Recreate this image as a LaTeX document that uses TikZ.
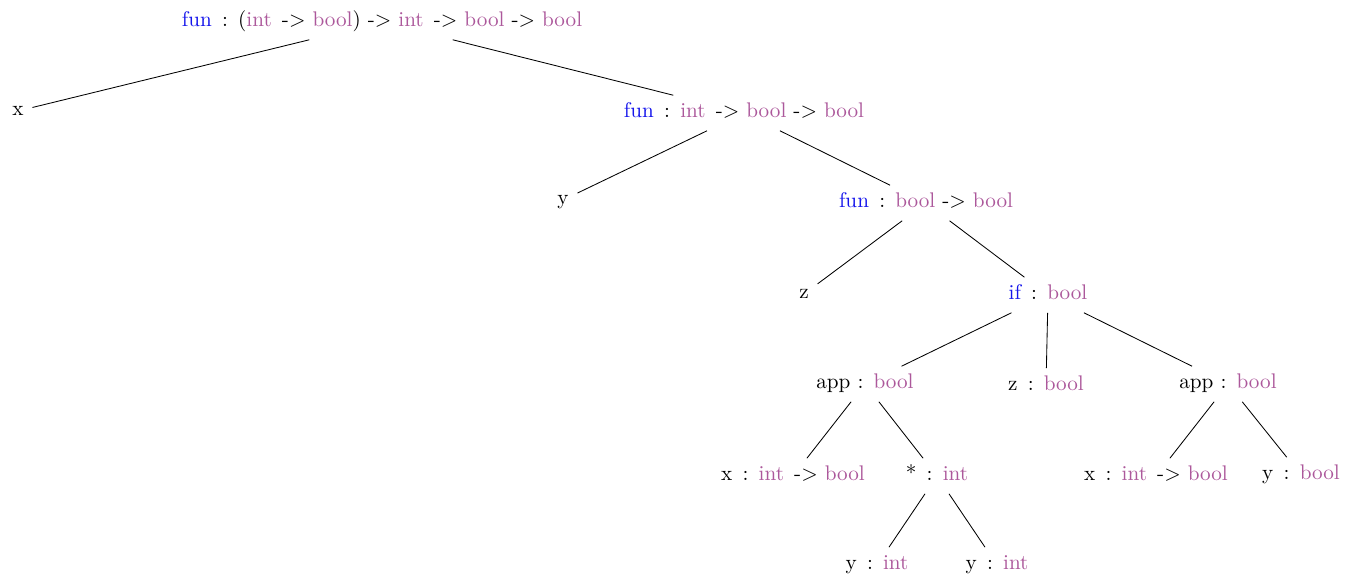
\documentclass[tikz,border=0pt]{standalone}
\usepackage{tikz}
\usetikzlibrary{positioning}
\usepackage{xcolor}

\definecolor{kwcol}{RGB}{20,20,235}
\definecolor{tycol}{RGB}{172,88,155}
\newcommand{\kw}[1]{\textcolor{kwcol}{#1}}
\newcommand{\ty}[1]{\textcolor{tycol}{#1}}
\newcommand{\gap}{\ \hspace{1.5pt}}
\newcommand{\arr}{-$>$\ }
\newcommand{\tint}{\ty{int}\gap}
\newcommand{\tbool}{\ty{bool}}

\begin{document}
\begin{tikzpicture}[x=0.0166cm, y=-0.0166cm,
    tnode/.style={inner sep=4pt, text height=6.5pt, text depth=1.9pt}]
            \useasboundingbox (0,0) rectangle (1358,577);
            \node[tnode] (root) at (382,22) {\kw{fun}\gap:\gap(\tint\arr\tbool)\ \arr\tint\arr\tbool\ \arr\tbool};
            \node[tnode] (x) at (18,111) {x};
            \node[tnode] (funA) at (744,113) {\kw{fun}\gap:\gap\tint\arr\tbool\ \arr\tbool};
            \node[tnode] (y) at (563,200) {y};
            \node[tnode] (funB) at (926,203) {\kw{fun}\gap:\gap\tbool\ \arr\tbool};
            \node[tnode] (z) at (804,294) {z};
            \node[tnode] (cond) at (1048,295) {\kw{if}\gap:\gap\tbool};
            \node[tnode] (appA) at (865,384) {app :\gap\tbool};
            \node[tnode] (zb) at (1046,386) {z\gap:\gap\tbool};
            \node[tnode] (appB) at (1228,384) {app :\gap\tbool};
            \node[tnode] (xA) at (793,476) {x\gap:\gap\tint\arr\tbool};
            \node[tnode] (star) at (937,476) {*\gap:\gap\ty{int}};
            \node[tnode] (xB) at (1156,476) {x\gap:\gap\tint\arr\tbool};
            \node[tnode] (yb) at (1301,475) {y\gap:\gap\tbool};
            \node[tnode] (yA) at (877,565) {y\gap:\gap\ty{int}};
            \node[tnode] (yC) at (997,565) {y\gap:\gap\ty{int}};

            \path [draw] (root) -- (x);
            \path [draw] (root) -- (funA);
            \path [draw] (funA) -- (y);
            \path [draw] (funA) -- (funB);
            \path [draw] (funB) -- (z);
            \path [draw] (funB) -- (cond);
            \path [draw] (cond) -- (appA);
            \path [draw] (cond) -- (zb);
            \path [draw] (cond) -- (appB);
            \path [draw] (appA) -- (xA);
            \path [draw] (appA) -- (star);
            \path [draw] (appB) -- (xB);
            \path [draw] (appB) -- (yb);
            \path [draw] (star) -- (yA);
            \path [draw] (star) -- (yC);
        \end{tikzpicture}
\end{document}
